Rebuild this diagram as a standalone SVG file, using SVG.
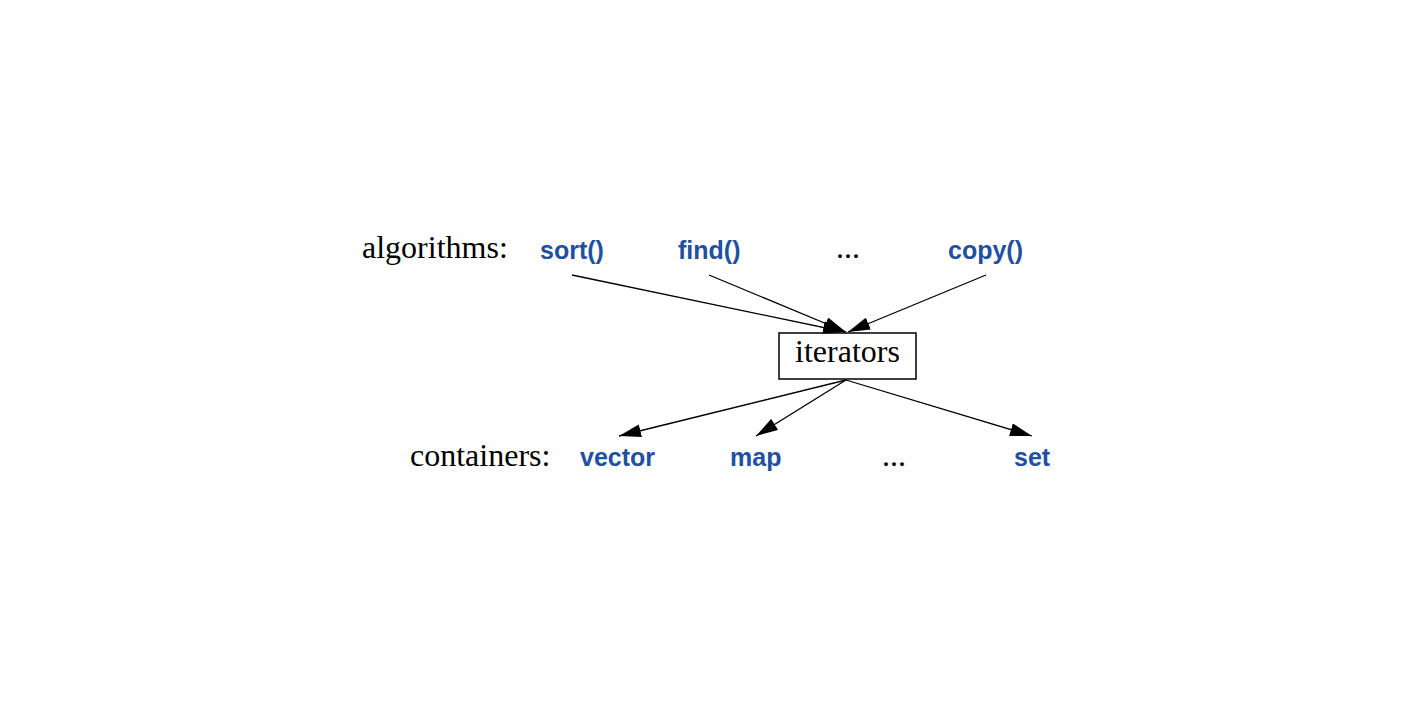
<svg xmlns="http://www.w3.org/2000/svg" width="1416" height="712" viewBox="0 0 1416 712">
<style>
.lbl{font-family:"Liberation Serif",serif;font-size:32px;fill:#000}
.it{font-family:"Liberation Sans",Arial,sans-serif;font-weight:bold;font-size:25px;fill:#2150a0}
.edge{stroke:#000;stroke-width:1.3;fill:none;marker-end:url(#ah)}
</style>
<defs>
<marker id="ah" markerUnits="userSpaceOnUse" markerWidth="23" markerHeight="13" refX="22" refY="6.5" orient="auto">
<path d="M0,0 L22,6.5 L0,13 z" fill="#000"/>
</marker>
</defs>
<rect width="1416" height="712" fill="#fff"/>
<g id="label-algorithms"><text class="lbl" x="362" y="258">algorithms:</text></g>
<g id="sort"><text class="it" x="540" y="259">sort()</text></g>
<g id="find"><text class="it" x="678" y="259">find()</text></g>
<g id="algo-dots"><text class="lbl" x="836" y="258">...</text></g>
<g id="copy"><text class="it" x="948" y="259">copy()</text></g>
<g id="iterators">
<rect x="779" y="333" width="137" height="46" fill="#fff" stroke="#000" stroke-width="1.5"/>
<text class="lbl" x="847.5" y="362" text-anchor="middle">iterators</text>
</g>
<g id="label-containers"><text class="lbl" x="410" y="466">containers:</text></g>
<g id="vector"><text class="it" x="580" y="466">vector</text></g>
<g id="map"><text class="it" x="730" y="466">map</text></g>
<g id="cont-dots"><text class="lbl" x="882" y="466">...</text></g>
<g id="set"><text class="it" x="1014" y="466">set</text></g>
<g id="connectors">
<line class="edge" x1="572" y1="275" x2="845" y2="332"/>
<line class="edge" x1="709" y1="275" x2="846" y2="332"/>
<line class="edge" x1="986" y1="275" x2="848" y2="332"/>
<line class="edge" x1="846" y1="380" x2="619" y2="436"/>
<line class="edge" x1="846" y1="380" x2="756" y2="436"/>
<line class="edge" x1="846" y1="380" x2="1032" y2="436"/>
</g>
</svg>
